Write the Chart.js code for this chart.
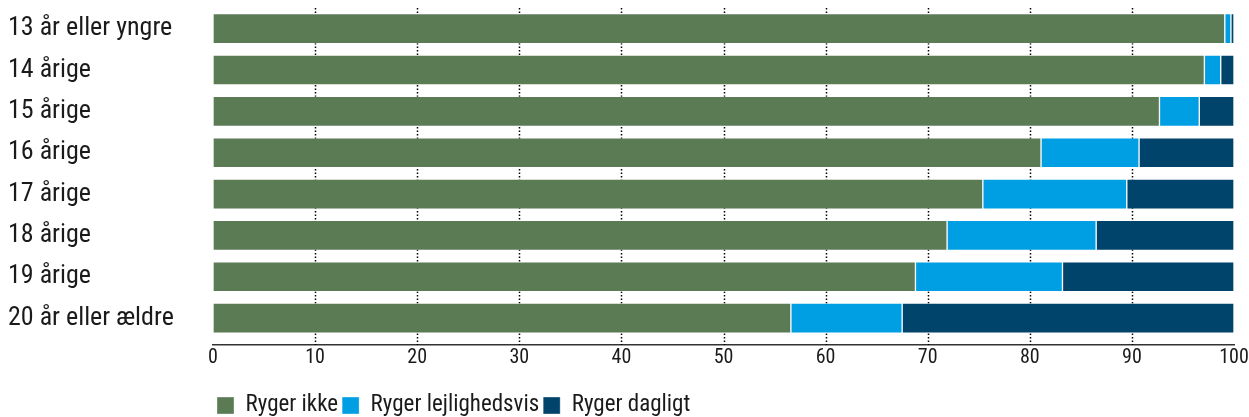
<!DOCTYPE html>
<html>
<head>
<meta charset="utf-8">
<script src="https://cdn.jsdelivr.net/npm/chart.js@4/dist/chart.umd.min.js"></script>
<style>
    html, body { margin: 0; padding: 0; background: #fff; }
    #wrap { width: 1249px; height: 417px; }
</style>
</head>
<body>
<div id="wrap"><canvas id="smokeChart" width="1249" height="417"></canvas></div>
<script>
const ageGroups = ["13 år eller yngre", "14 årige", "15 årige", "16 årige",
    "17 årige", "18 årige", "19 årige", "20 år eller ældre"];

const rygerIkke = [99.1, 97.1, 92.7, 81.1, 75.4, 71.9, 68.8, 56.6];
const rygerLejlighedsvis = [0.6, 1.6, 3.9, 9.6, 14.1, 14.6, 14.4, 10.9];
const rygerDagligt = [0.3, 1.3, 3.4, 9.3, 10.5, 13.5, 16.8, 32.5];

const xTicks = [0, 10, 20, 30, 40, 50, 60, 70, 80, 90, 100];

const fontFamily = "'Roboto Condensed', Lato, sans-serif";

const ctx = document.getElementById('smokeChart').getContext('2d');

function series(label, data, color) {
    return {
        label: label,
        data: data,
        backgroundColor: color,
        borderColor: 'rgba(255,255,255,0.35)',
        borderWidth: 1,
        borderSkipped: false,
        barThickness: 30
    };
}

new Chart(ctx, {
    type: 'bar',
    data: {
        labels: ageGroups,
        datasets: [
            series('Ryger ikke', rygerIkke, '#5b7b55'),
            series('Ryger lejlighedsvis', rygerLejlighedsvis, '#009fe3'),
            series('Ryger dagligt', rygerDagligt, '#00436b')
        ]
    },
    options: {
        indexAxis: 'y',
        responsive: false,
        animation: false,
        layout: {
            padding: { left: 8, right: 15, top: 8, bottom: -10 }
        },
        plugins: {
            tooltip: { enabled: false },
            legend: {
                position: 'bottom',
                align: 'start',
                fullSize: false,
                labels: {
                    color: '#1a1a1a',
                    boxWidth: 17,
                    boxHeight: 17,
                    padding: 4,
                    font: { family: fontFamily, size: 23 }
                }
            }
        },
        scales: {
            x: {
                stacked: true,
                min: 0,
                max: 100,
                afterBuildTicks: (scale) => {
                    scale.ticks = xTicks.map(v => ({ value: v }));
                },
                afterFit: (scale) => {
                    scale.height = 45;
                    scale.paddingRight = 0;
                },
                grid: { display: false, drawTicks: false },
                border: { display: true, color: '#333', width: 1.5 },
                ticks: {
                    color: '#1a1a1a',
                    padding: 1,
                    font: { family: fontFamily, size: 20 }
                }
            },
            y: {
                stacked: true,
                afterBuildTicks: (scale) => {
                    // a little extra room below the last bar, as in the original
                    scale._valueRange += 0.15;
                },
                afterFit: (scale) => {
                    scale.width = 205;
                    scale.paddingTop = 0;
                    scale.paddingBottom = 0;
                },
                border: { display: false },
                grid: { display: false },
                ticks: {
                    crossAlign: 'far',
                    color: '#1a1a1a',
                    padding: 0,
                    font: { family: fontFamily, size: 26 }
                }
            }
        }
    },
    plugins: [{
        id: 'dottedGrid',
        beforeDatasetsDraw(chart) {
            // dotted vertical guide lines, hidden behind the bars
            const x = chart.scales.x;
            const area = chart.chartArea;
            const c = chart.ctx;
            c.save();
            c.strokeStyle = '#000';
            c.lineWidth = 1.5;
            c.setLineDash([1.5, 2]);
            xTicks.slice(1, -1).forEach(v => {
                const px = Math.round(x.getPixelForValue(v)) + 0.5;
                c.beginPath();
                c.moveTo(px, area.top);
                c.lineTo(px, area.bottom);
                c.stroke();
            });
            c.restore();
        }
    }]
});
</script>
</body>
</html>
